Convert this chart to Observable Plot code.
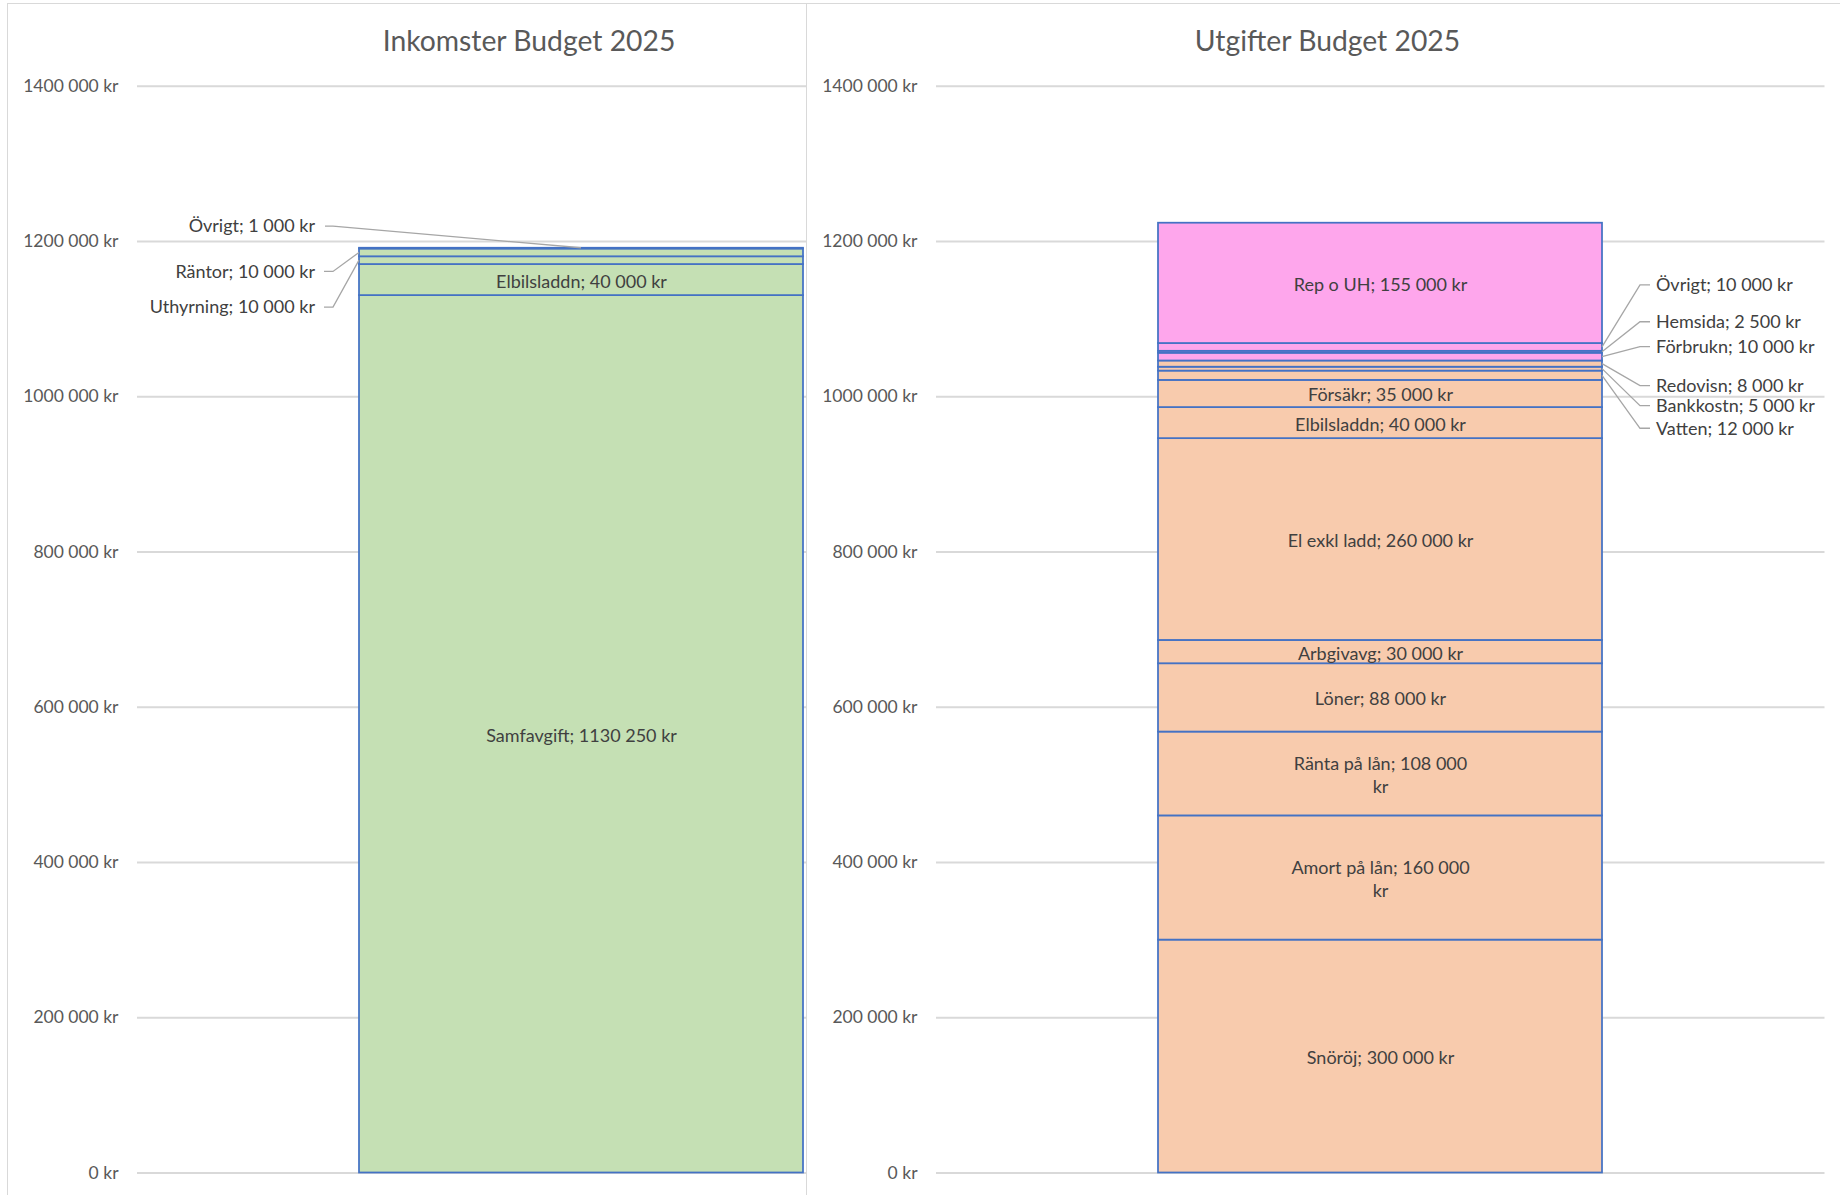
<!DOCTYPE html>
<html><head><meta charset="utf-8">
<script src="https://cdn.jsdelivr.net/npm/d3@7"></script>
<script src="https://cdn.jsdelivr.net/npm/@observablehq/plot@0.6"></script>
<style>
body{margin:0;background:#fff;font-family:Lato,"Open Sans",sans-serif;}
#page{position:relative;width:1840px;height:1195px;overflow:hidden;background:#fff;}
.chart{position:absolute;top:2.5px;width:1036px;height:1240px;background:#fff;border:1.5px solid #d9d9d9;box-sizing:border-box;overflow:hidden;}
.title{position:absolute;left:0;right:0;top:14px;padding-left:8px;text-align:center;font-size:28.3px;color:#595959;line-height:44px;white-space:nowrap;}
.plot{position:absolute;left:0;top:50px;}
</style></head>
<body><div id="page">
<div class="chart" id="left" style="left:7px"><div class="title">Inkomster Budget 2025</div><div class="plot"></div></div>
<div class="chart" id="right" style="left:805.5px"><div class="title">Utgifter Budget 2025</div><div class="plot"></div></div>
</div>
<script>
// ---------- data ----------
const incomeNames = ["Samfavgift", "Elbilsladdn", "Uthyrning", "Räntor", "Övrigt"];
const incomeValues = [1130250, 40000, 10000, 10000, 1000];
const incomeLabels = ["Samfavgift; 1130 250 kr", "Elbilsladdn; 40 000 kr", "Uthyrning; 10 000 kr", "Räntor; 10 000 kr", "Övrigt; 1 000 kr"];
const incomeGroups = ["Intäkt", "Intäkt", "Intäkt", "Intäkt", "Intäkt"];

const expenseNames = ["Snöröj", "Amort på lån", "Ränta på lån", "Löner", "Arbgivavg", "El exkl ladd", "Elbilsladdn", "Försäkr", "Vatten", "Bankkostn", "Redovisn", "Förbrukn", "Hemsida", "Övrigt", "Rep o UH"];
const expenseValues = [300000, 160000, 108000, 88000, 30000, 260000, 40000, 35000, 12000, 5000, 8000, 10000, 2500, 10000, 155000];
const expenseLabels = ["Snöröj; 300 000 kr", "Amort på lån; 160 000\nkr", "Ränta på lån; 108 000\nkr", "Löner; 88 000 kr", "Arbgivavg; 30 000 kr", "El exkl ladd; 260 000 kr", "Elbilsladdn; 40 000 kr", "Försäkr; 35 000 kr", "Vatten; 12 000 kr", "Bankkostn; 5 000 kr", "Redovisn; 8 000 kr", "Förbrukn; 10 000 kr", "Hemsida; 2 500 kr", "Övrigt; 10 000 kr", "Rep o UH; 155 000 kr"];
const expenseGroups = ["Drift", "Drift", "Drift", "Drift", "Drift", "Drift", "Drift", "Drift", "Drift", "Drift", "Drift", "Underhåll", "Underhåll", "Underhåll", "Underhåll"];

const yTicks = [0, 200000, 400000, 600000, 800000, 1000000, 1200000, 1400000];
const yTickLabels = ["0 kr", "200 000 kr", "400 000 kr", "600 000 kr", "800 000 kr", "1000 000 kr", "1200 000 kr", "1400 000 kr"];

// ---------- styles / layout ----------
const groupDomain = ["Intäkt", "Drift", "Underhåll"];
const groupColors = ["#c5e0b4", "#f8cbad", "#fea6ec"];
// callout label offsets (pixels, relative to segment middle)
const incomeCallouts = {"Övrigt": {dy: -22, toTop: true}, "Räntor": {dy: 19}, "Uthyrning": {dy: 47}};
const expenseCallouts = {"Övrigt": {dy: -62}, "Hemsida": {dy: -30}, "Förbrukn": {dy: -10}, "Redovisn": {dy: 22}, "Bankkostn": {dy: 37}, "Vatten": {dy: 53}};

function makeChart(names, values, labels, groups, callouts, side) {
  const rows = names.map((n, i) => ({cat: "Budget", name: n, value: values[i], label: labels[i], group: groups[i]}));
  const calloutMark = (index, scales) => {
    const x = scales.x, y = scales.y;
    const bx0 = x("Budget"), bw = x.bandwidth(), bx1 = bx0 + bw, cx = bx0 + bw / 2;
    const g = d3.create("svg:g").attr("fill", "none");
    let cum = 0;
    for (const r of rows) {
      const lo = cum, hi = cum + r.value; cum = hi;
      const c = callouts[r.name];
      if (!c) continue;
      const ym = (y(lo) + y(hi)) / 2;
      const ly = ym + c.dy;
      let path, tx, anchor;
      if (side === "left") {
        tx = bx0 - 44; anchor = "end";
        if (c.toTop) path = `M${bx0 - 34},${ly}L${bx0 - 26},${ly}L${cx},${y(hi)}`;
        else path = `M${bx0 - 35},${ly}L${bx0 - 26},${ly}L${bx0},${ym}`;
      } else {
        tx = bx1 + 54; anchor = "start";
        path = `M${bx1},${ym}L${bx1 + 38},${ly}L${bx1 + 48},${ly}`;
      }
      g.append("path").attr("d", path).attr("stroke", "#a6a6a6").attr("stroke-width", 1.3);
      g.append("text").attr("x", tx).attr("y", ly).attr("dy", "0.35em").attr("text-anchor", anchor)
        .attr("fill", "#404040").attr("font-size", 18).text(r.label);
    }
    return g.node();
  };
  return Plot.plot({
    width: 1033, height: 1160, marginLeft: 129, marginRight: 15.5, marginTop: 31.7, marginBottom: 41.5,
    style: {fontFamily: "Lato, 'Open Sans', sans-serif", fontSize: "18px", background: "transparent"},
    x: {type: "band", domain: ["Budget"], padding: 0.334, axis: null},
    y: {domain: [0, 1400000], axis: null},
    color: {domain: groupDomain, range: groupColors},
    marks: [
      Plot.gridY(yTicks, {stroke: "#d9d9d9", strokeOpacity: 1, strokeWidth: 2}),
      Plot.axisY(yTicks, {tickSize: 0, tickPadding: 19, fontSize: 17.5, fill: "#595959", label: null,
        tickFormat: v => yTickLabels[yTicks.indexOf(v)]}),
      Plot.barY(rows, {x: "cat", y: "value", fill: "group", stroke: "#4472c4", strokeWidth: 1.75}),
      Plot.text(rows, Plot.stackY({x: "cat", y: "value", text: d => callouts[d.name] ? null : d.label,
        fill: "#404040", fontSize: 18, lineHeight: 1.3})),
      calloutMark
    ]
  });
}

document.querySelector("#left .plot").append(makeChart(incomeNames, incomeValues, incomeLabels, incomeGroups, incomeCallouts, "left"));
document.querySelector("#right .plot").append(makeChart(expenseNames, expenseValues, expenseLabels, expenseGroups, expenseCallouts, "right"));
</script>
</body></html>
